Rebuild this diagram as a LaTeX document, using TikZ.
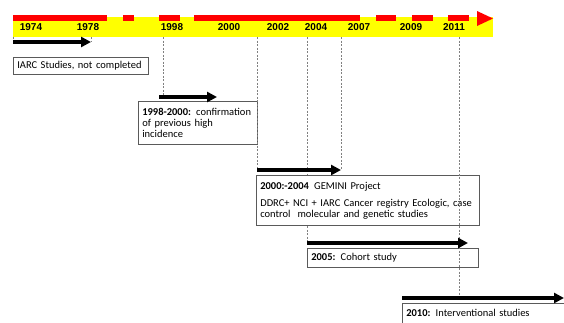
\documentclass[tikz,border=0pt]{standalone}
\usepackage{fontspec}
\setmainfont{Carlito}
\newfontfamily\yearfont{Liberation Sans}
\usepackage{xcolor}
\usetikzlibrary{arrows.meta}

\definecolor{bandyellow}{RGB}{255,255,0}
\definecolor{bandred}{RGB}{255,0,0}
\definecolor{boxgray}{RGB}{90,90,90}

\begin{document}
\begin{tikzpicture}[x=1pt,y=-1pt,
        span/.style = {line width=3.5pt,
            -{Triangle[length=10pt,width=10pt]}},
        tick/.style = {gray, line width=0.5pt,
            dash pattern=on 2pt off 1.5pt},
        period/.style = {draw=boxgray, fill=white, line width=0.6pt,
            anchor=north west, inner xsep=4pt, inner ysep=0pt,
            align=left, font=\fontsize{10.5}{11}\selectfont},
        year/.style = {font=\yearfont\fontsize{10}{12}\selectfont\bfseries}]

        \useasboundingbox (0,0) rectangle (564,322);
        \clip (0,0) rectangle (564,322);

        % Time band
        \fill[bandyellow] (13,17) rectangle (493,37);
        \foreach \a/\b in {13/107, 123/134, 159/180, 194/360,
                           376/396, 412/433, 448/469}
            \draw[bandred, line width=5.5pt] (\a,17.8) -- (\b,17.8);
        \fill[bandred] (477,11) -- (493,18.5) -- (477,26) -- cycle;

        % Years
        \foreach \x/\yr in {31/1974, 88/1978, 172/1998, 229/2000,
                            278/2002, 316/2004, 359/2007, 411/2009,
                            454/2011}
            \node[year] (y\yr) at (\x,27.5) {\yr};

        % Ticks under the band
        \foreach \x/\name in {13/a, 91/b, 163/c, 257/d, 307/e,
                              341/f, 459/g}
            \coordinate (t\name) at (\x,37);

        % Spans
        \coordinate (s1) at (13,42);  \coordinate (e1) at (91,42);
        \coordinate (s2) at (159,97); \coordinate (e2) at (217,97);
        \coordinate (s3) at (257,170); \coordinate (e3) at (341,170);
        \coordinate (s4) at (307,243); \coordinate (e4) at (468,243);
        \coordinate (s5) at (402,298); \coordinate (e5) at (564,298);

        % Guide hidden behind the boxes
        \draw[tick] (te) -- (s4);

        % Periods
        \node[period, minimum width=135pt, minimum height=17pt,
              text width=127pt] (iarc) at (13,57)
            {IARC Studies, not completed};
        \node[period, minimum width=119pt, minimum height=43pt,
              text width=111pt] (confirm) at (138,101)
            {\textbf{1998-2000:} confirmation\\of previous high\\incidence};
        \node[period, minimum width=223pt, minimum height=50pt,
              text width=215pt] (gemini) at (256,175)
            {\textbf{2000:-2004}\enspace GEMINI Project\\[6pt]
             DDRC+ NCI + IARC Cancer registry Ecologic, case\\
             control\ \ molecular and genetic studies};
        \node[period, minimum width=171pt, minimum height=19pt,
              text width=163pt] (cohort) at (307,248)
            {\textbf{2005:} Cohort study};
        \node[period, minimum width=172pt, minimum height=20pt,
              text width=164pt] (interv) at (402,303)
            {\textbf{2010:} Interventional studies};

        % Dashed guides
        \draw[tick] (ta) -- (s1);
        \draw[tick] (tb) -- (e1);
        \draw[tick] (tc) -- (tc |- s2);
        \draw[tick] (td) -- (s3);
        \draw[tick] (tf) -- (e3);
        \draw[tick] (tg) -- (tg |- s5);

        % Arrows
        \draw[span] (s1) -- (e1);
        \draw[span] (s2) -- (e2);
        \draw[span] (s3) -- (e3);
        \draw[span] (s4) -- (e4);
        \draw[span] (s5) -- (e5);

    \end{tikzpicture}
\end{document}
